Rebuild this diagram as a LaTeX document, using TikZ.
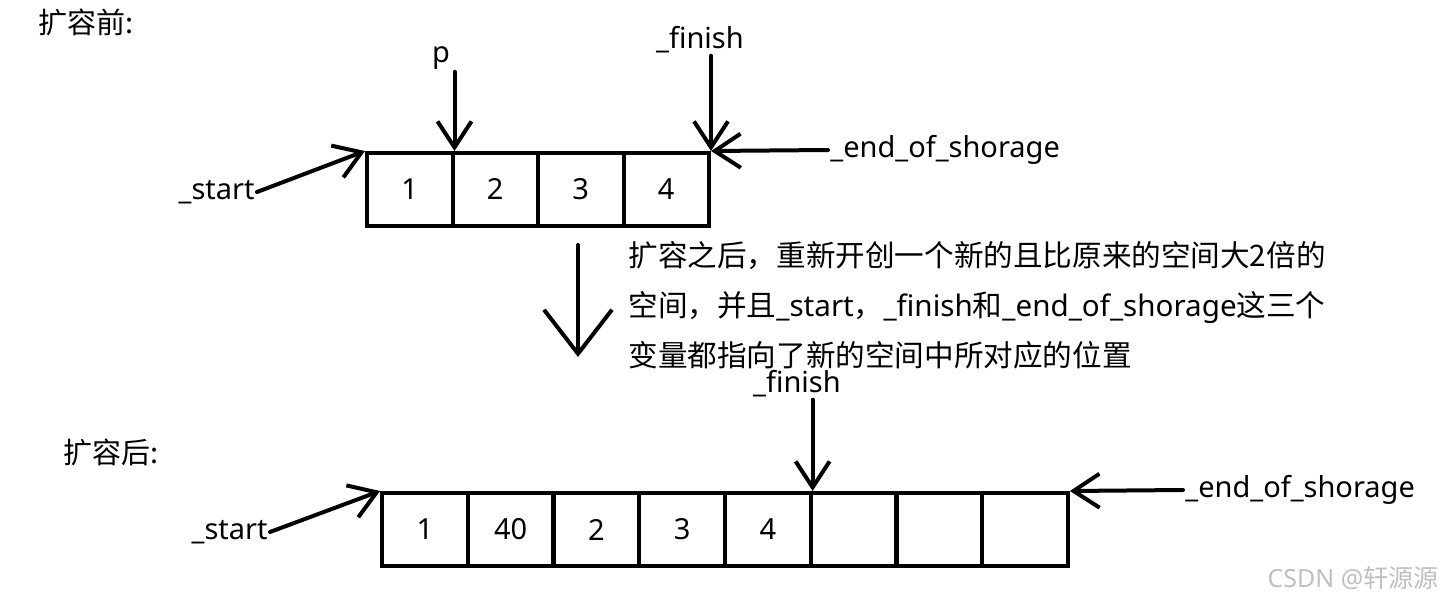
\documentclass[tikz,border=0pt]{standalone}
\usepackage{fontspec}
\setmainfont{Noto Sans}
\newfontfamily\cjk{Noto Sans CJK SC}
\usetikzlibrary{arrows.meta,positioning}

\tikzset{
    cell/.style={draw,line width=2pt,minimum width=42.75pt,minimum height=36.5pt,inner sep=0pt,
        font=\fontsize{14.5}{17}\selectfont},
    ptr/.style={line width=2pt,line cap=round,-{Straight Barb[length=13pt,width=17pt]}},
    bigptr/.style={line width=2pt,line cap=round,-{Straight Barb[length=22pt,width=34pt]}},
    lbl/.style={inner sep=1pt,font=\fontsize{14.5}{17}\selectfont}
}

\begin{document}
\begin{tikzpicture}[x=0.5pt,y=-0.5pt]
    \useasboundingbox (0,0) rectangle (1448,605);
    % before
    \node[lbl] (t1) at (86,22) {\cjk 扩容前:};
    \foreach \v [count=\i] in {1,2,3,4}
        \node[cell] (a\i) at ({367+85.5*(\i-0.5)},189.5) {\v};
    \node[lbl] (p) at (441,58) {p};
    \node[lbl] (f1) at (700,40) {\_finish};
    \node[lbl,anchor=west] (e1) at (828,150) {\_end\_of\_shorage};
    \node[lbl,anchor=east] (s1) at (257,192) {\_start};
    \draw[ptr] (a1.north east |- p.south) -- (a1.north east);
    \draw[ptr] (a4.north east |- f1.south) -- (a4.north east);
    \draw[ptr] (e1.west) -- (a4.north east);
    \draw[ptr] (s1.east) -- (a1.north west);
    % middle
    \coordinate (d1) at (578,245);
    \coordinate (d2) at (578,357);
    \draw[bigptr] (d1) -- (d2);
    \node[lbl,anchor=west,align=left,font=\fontsize{14.8}{25}\selectfont] (note) at (626,305)
        {{\cjk 扩容之后，重新开创一个新的且比原来的空间大2倍的}\\
         {\cjk 空间，并且}\_start{\cjk ，}\_finish{\cjk 和}\_end\_of\_shorage{\cjk 这三个}\\
         {\cjk 变量都指向了新的空间中所对应的位置}};
    % after
    \node[lbl] (t2) at (111,452) {\cjk 扩容后:};
    \foreach \v [count=\i] in {1,40,2,3,4,{},{},{}}
        \node[cell] (b\i) at ({382+85.75*(\i-0.5)},529.5) {\v};
    \node[lbl] (f2) at (797,384) {\_finish};
    \node[lbl,anchor=west] (e2) at (1183,490) {\_end\_of\_shorage};
    \node[lbl,anchor=east] (s2) at (270,532) {\_start};
    \draw[ptr] (b5.north east |- f2.south) -- (b5.north east);
    \draw[ptr] (e2.west) -- (b8.north east);
    \draw[ptr] (s2.east) -- (b1.north west);
    \node[lbl,text=black!25,font=\fontsize{12.5}{14}\selectfont] (mark) at (1353,578) {CSDN @{\cjk 轩源源}};
\end{tikzpicture}
\end{document}
